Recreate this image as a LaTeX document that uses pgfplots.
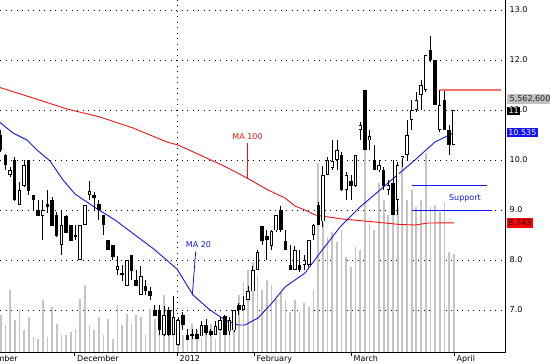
\documentclass[border=0pt]{standalone}
\usepackage{pgfplots}
\pgfplotsset{compat=1.18}
\usepackage{pgfplotstable}
\usepackage{fontspec}
\setmainfont{DejaVu Sans}
\definecolor{volgray}{HTML}{C4C4C4}
\definecolor{mablue}{HTML}{1414F0}
\definecolor{mared}{HTML}{F01414}
\definecolor{reslight}{HTML}{FF7070}
\definecolor{boxgray}{HTML}{C0C0C0}

\pgfplotstableread{
i o h l c v
0 10.5 10.6 10.15 10.2 6.90
1 10.1 10.12 9.8 9.9 6.70
3 10.0 10.05 9.18 9.2 6.80
6 10.0 10.0 9.3 9.37 6.86
7 9.3 9.3 9.0 9.2 6.46
8 9.0 9.2 8.88 8.88 6.42
10 9.12 9.4 8.93 9.06 6.46
11 9.2 9.25 8.68 8.68 7.06
12 8.9 8.95 8.45 8.47 6.72
14 8.88 8.9 8.54 8.54 6.50
15 8.7 8.7 8.38 8.38 6.56
16 8.5 8.7 8.4 8.46 6.62
20 9.3 9.36 9.0 9.24 6.60
21 9.12 9.2 8.8 9.0 6.86
22 8.9 8.9 8.5 8.7 6.50
23 8.39 8.4 8.19 8.19 6.82
24 8.3 8.3 8.0 8.06 6.42
26 7.74 7.9 7.57 7.7 6.70
28 8.09 8.1 7.6 7.78 6.72
29 7.59 7.8 7.48 7.48 6.90
31 7.48 7.6 7.3 7.37 6.50
32 7.37 7.45 7.2 7.28 7.02
33 6.99 7.1 6.87 6.87 6.82
34 7.0 7.1 6.5 6.6 7.10
36 7.0 7.05 6.47 6.5 6.96
39 6.9 6.95 6.6 6.7 6.50
40 6.5 6.62 6.4 6.4 6.50
41 6.52 6.62 6.42 6.47 6.72
42 6.52 6.62 6.42 6.42 6.60
44 6.7 6.82 6.5 6.54 6.62
45 6.57 6.62 6.48 6.5 6.72
48 6.88 6.9 6.5 6.5 6.60
51 7.1 7.13 6.9 6.99 7.30
56 8.68 8.68 8.3 8.37 7.40
57 8.48 8.6 8.0 8.4 7.60
60 9.0 9.07 8.55 8.59 7.36
61 8.37 8.6 8.2 8.2 7.20
62 7.9 8.3 7.8 7.8 6.96
64 7.9 8.2 7.75 7.8 6.96
68 9.1 9.15 8.7 8.7 9.94
73 10.1 10.15 9.38 9.4 8.60
75 9.57 9.7 9.2 9.48 7.86
78 11.4 11.4 10.2 10.2 10.20
80 10.0 10.3 9.8 9.8 8.60
82 9.8 9.85 9.4 9.47 9.20
84 9.53 10.0 8.9 8.9 9.10
92 12.2 12.48 11.95 12.0 9.06
93 12.0 12.0 11.1 11.1 9.10
95 11.2 11.39 10.6 10.6 9.14
96 10.6 10.7 10.1 10.3 8.16
}\downdata

\pgfplotstableread{
i o h l c v
2 9.7 9.85 9.65 9.8 7.40
4 9.1 9.55 9.1 9.4 7.02
5 9.48 10.0 9.45 9.9 6.60
9 8.88 9.19 8.4 9.0 7.20
13 8.3 9.0 8.1 8.7 6.52
17 8.0 8.7 8.0 8.7 7.22
18 8.7 9.1 8.7 9.1 7.50
19 9.3 9.57 9.2 9.38 6.70
25 7.8 8.07 7.7 7.88 7.10
27 7.48 8.0 7.48 8.0 6.92
30 7.3 7.88 7.3 7.68 6.86
35 6.5 7.08 6.47 6.9 7.30
37 6.5 7.27 6.5 6.85 6.62
38 6.3 6.85 6.28 6.8 6.36
43 6.47 6.78 6.47 6.7 6.42
46 6.5 6.78 6.5 6.68 6.42
47 6.6 6.85 6.58 6.8 6.56
49 6.57 6.85 6.5 6.8 6.60
50 6.59 7.0 6.55 7.0 6.90
52 7.0 7.27 7.0 7.1 7.56
53 7.2 7.47 7.2 7.37 7.80
54 7.37 7.87 7.37 7.8 7.96
55 7.8 8.2 7.8 8.15 7.70
58 8.28 8.6 8.2 8.57 7.50
59 8.59 8.9 8.55 8.9 7.22
63 7.8 8.27 7.8 8.2 7.20
65 7.9 8.1 7.8 8.0 7.14
66 7.9 8.4 7.85 8.4 7.06
67 8.5 8.72 8.4 8.7 7.40
69 8.77 9.87 8.65 9.7 8.74
70 9.7 10.05 9.7 10.0 8.46
71 9.84 10.4 9.8 9.97 8.56
72 10.0 10.4 9.8 10.2 8.36
74 9.4 9.75 9.2 9.7 8.06
76 9.48 10.1 9.45 10.1 8.26
77 10.6 10.75 10.4 10.7 8.20
79 10.39 10.6 10.2 10.48 8.74
81 9.79 10.0 9.75 9.9 9.54
83 9.4 9.6 9.3 9.5 8.90
85 9.2 9.95 8.9 9.9 9.06
86 10.04 10.08 9.85 10.08 10.00
87 10.1 10.8 10.0 10.5 9.20
88 10.8 11.2 10.6 11.0 9.40
89 11.0 11.36 10.95 11.2 9.06
90 11.3 11.6 11.0 11.5 9.20
91 11.4 12.1 11.35 12.1 10.14
94 10.6 11.39 10.55 11.1 8.96
97 10.3 11.0 10.3 11.0 8.12
}\updata

\begin{document}
\begin{tikzpicture}[font=\fontsize{8}{9.6}\selectfont]
\begin{axis}[
  at={(0pt,0pt)}, anchor=south west,
  scale only axis, width=505.5pt, height=352.5pt,
  xmin=-0.15, xmax=108.09, ymin=6.15, ymax=13.2,
  axis x line*=bottom, axis y line*=right,
  axis line style={black, line width=0.9pt},
  clip mode=individual,
  xtick={15.8,37.75,54.24,75.0,97.06},
  xticklabels={,,,,},
  ytick={7,8,9,10,11,12,13},
  yticklabels={7.0,8.0,9.0,10.0,11.0,12.0,13.0},
  tick align=outside, major tick length=4pt,
  xtick style={black, line width=0.8pt},
  ytick style={draw=none},
  ymajorgrids,
  major grid style={black, line width=0.9pt, dash pattern=on 0.9pt off 4.6pt},
  extra x ticks={37.75}, extra x tick labels={},
  extra x tick style={grid=major, tick style={draw=none}},
  yticklabel style={anchor=west, inner sep=0pt},
]
% volume
\addplot[ycomb, draw=volgray, line width=1.7pt, forget plot] table[x=i, y=v] {\downdata};
\addplot[ycomb, draw=volgray, line width=1.7pt, forget plot] table[x=i, y=v] {\updata};
% moving averages
\addplot[mared, line width=0.9pt] coordinates {
(-0.15,11.45) (6.92,11.24) (14.2,11.02) (21.26,10.86) (28.33,10.64) (35.61,10.36) (37.97,10.30) (42.68,10.10) (48.03,9.87) (52.74,9.64) (57.24,9.40) (60.88,9.24) (63.02,9.08) (65.16,9.00) (67.3,8.90) (73.08,8.82) (80.15,8.76) (85.5,8.71) (88.71,8.70) (91.5,8.74) (97.07,8.743)};
\addplot[mablue, line width=0.9pt] coordinates {
(-0.15,10.75) (2.63,10.54) (5.63,10.40) (7.77,10.20) (10.56,9.98) (13.34,9.60) (15.91,9.32) (20.19,9.05) (24.48,8.80) (28.76,8.50) (33.04,8.20) (37.75,7.82) (41.18,7.30) (44.82,7.00) (48.03,6.80) (50.81,6.70) (52.31,6.70) (55.1,6.84) (58.09,7.14) (60.88,7.46) (65.16,7.74) (68.37,8.14) (72.66,8.66) (76.94,9.06) (81.22,9.40) (84.43,9.66) (88.71,10.00) (92.99,10.36) (96.85,10.535)};
% wicks
\addplot[black, line width=0.9pt, quiver={u=0, v=\thisrow{h}-\thisrow{l}}] table[x=i, y=l] {\downdata};
\addplot[black, line width=0.9pt, quiver={u=0, v=\thisrow{h}-\thisrow{l}}] table[x=i, y=l] {\updata};
% bodies
\addplot[black, line width=3.5pt, quiver={u=0, v=\thisrow{o}-\thisrow{c}}] table[x=i, y=c] {\downdata};
\addplot[black, line width=3.5pt, quiver={u=0, v=\thisrow{c}-\thisrow{o}}] table[x=i, y=o] {\updata};
\addplot[white, line width=1.7pt, quiver={u=0, v=\thisrow{c}-\thisrow{o}-0.036}] table[x=i, y expr=\thisrow{o}+0.018] {\updata};
% annotations
\draw[mared, line width=0.8pt] (axis cs:52.74,10.34) -- (axis cs:52.74,9.64);
\node[text=mared, anchor=base, inner sep=0pt] at (axis cs:52.85,10.40) {MA 100};
\draw[mablue, line width=0.8pt] (axis cs:41.75,8.166) -- (axis cs:41.03,7.30);
\node[text=mablue, anchor=base, inner sep=0pt] at (axis cs:42.35,8.24) {MA 20};
\draw[mablue, line width=0.9pt] (axis cs:88.07,9.494) -- (axis cs:104.1,9.494);
\draw[mablue, line width=0.9pt] (axis cs:88.07,8.994) -- (axis cs:105.2,8.994);
\node[text=mablue, anchor=base, inner sep=0pt] at (axis cs:99.4,9.18) {Support};
\draw[reslight, line width=1.8pt] (axis cs:94.07,11.394) -- (axis cs:107.07,11.394);
% anchor points for labels
\coordinate (vol) at (axis cs:108.09,11.22);
\coordinate (last) at (axis cs:108.09,10.983);
\coordinate (ma20) at (axis cs:108.09,10.55);
\coordinate (ma100) at (axis cs:108.09,8.74);
\coordinate (nov) at (axis cs:-5.87,6.15);
\coordinate (dec) at (axis cs:15.8,6.15);
\coordinate (jan) at (axis cs:37.75,6.15);
\coordinate (feb) at (axis cs:54.24,6.15);
\coordinate (mar) at (axis cs:75.0,6.15);
\coordinate (apr) at (axis cs:97.06,6.15);
\end{axis}
\foreach \c/\t in {nov/November, dec/December, jan/2012, feb/February, mar/March, apr/April}
  \node[anchor=north west, inner sep=0pt, xshift=2.5pt, yshift=-3.2pt] at (\c) {\t};
\node[anchor=west, fill=boxgray, text=black!85, inner xsep=2.5pt, inner ysep=0pt, minimum height=9.5pt, xshift=1.5pt] at (vol) {5,562,600};
\node[anchor=west, fill=black, text=white, inner xsep=1.4pt, inner ysep=0pt, minimum height=8.5pt, xshift=1.5pt] at (last) {11};
\node[anchor=west, fill=mablue, text=white, inner xsep=1.2pt, inner ysep=0pt, minimum height=9pt, xshift=1.5pt] at (ma20) {10.535};
\node[anchor=west, fill=red, text=black, inner xsep=1.2pt, inner ysep=0pt, minimum height=9.5pt, xshift=1.5pt] at (ma100) {8.743};
\pgfresetboundingbox
\path[use as bounding box] (0pt,-11.5pt) rectangle (550pt,352.5pt);
\end{tikzpicture}
\end{document}
